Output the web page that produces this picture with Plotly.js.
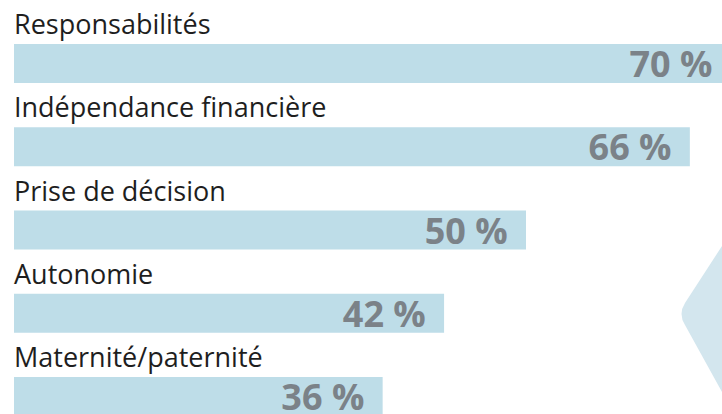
<!DOCTYPE html>
<html>
<head>
<meta charset="utf-8">
<script src="https://cdn.plot.ly/plotly-3.0.1.min.js"></script>
<style>html,body{margin:0;padding:0;background:#fff;}#chart{width:722px;height:414px;}</style>
</head>
<body>
<div id="chart"></div>
<script>
var categories = ["Responsabilités", "Indépendance financière", "Prise de décision", "Autonomie", "Maternité/paternité"];
var values = [70, 66, 50, 42, 36];
var valueLabels = ["70 %", "66 %", "50 %", "42 %", "36 %"];

var barText = valueLabels.map(function (t) { return t + "\u00A0\u2009"; });

var trace = {
  type: "bar",
  orientation: "h",
  x: values,
  y: categories,
  marker: { color: "#bedde8", line: { width: 0 } },
  text: barText,
  textposition: "inside",
  insidetextanchor: "end",
  constraintext: "none",
  cliponaxis: true,
  textfont: { family: "Open Sans, sans-serif", size: 36, color: "#7b8288", weight: 700 },
  hoverinfo: "none"
};

var annotations = categories.map(function (c) {
  return {
    xref: "paper", yref: "y",
    x: 0, y: c,
    xanchor: "left", yanchor: "middle",
    xshift: -2,
    yshift: 40,
    showarrow: false,
    text: c,
    font: { family: "Open Sans, sans-serif", size: 27, color: "#1e1e1e" }
  };
});

var px = function (x) { return (x - 14) / 708; };
var py = function (y) { return 1 - y / 414; };
var diamond = "M " + px(722) + "," + py(246) +
  " L " + px(685) + "," + py(303) +
  " Q " + px(678) + "," + py(314) + " " + px(685) + "," + py(325) +
  " L " + px(722) + "," + py(392) + " Z";

var layout = {
  width: 722,
  height: 414,
  margin: { l: 14, r: 0, t: 0, b: 0, pad: 0 },
  paper_bgcolor: "#ffffff",
  plot_bgcolor: "#ffffff",
  showlegend: false,
  bargap: 0.532,
  xaxis: { range: [0, 708 / 10.24], visible: false, fixedrange: true },
  yaxis: { type: "category", range: [4.21, -0.763], visible: false, fixedrange: true },
  annotations: annotations,
  shapes: [{
    type: "path", xref: "paper", yref: "paper",
    path: diamond,
    fillcolor: "#d3e6ee",
    line: { width: 0 },
    layer: "below"
  }]
};

Plotly.newPlot("chart", [trace], layout, { displayModeBar: false, staticPlot: true });
</script>
</body>
</html>
